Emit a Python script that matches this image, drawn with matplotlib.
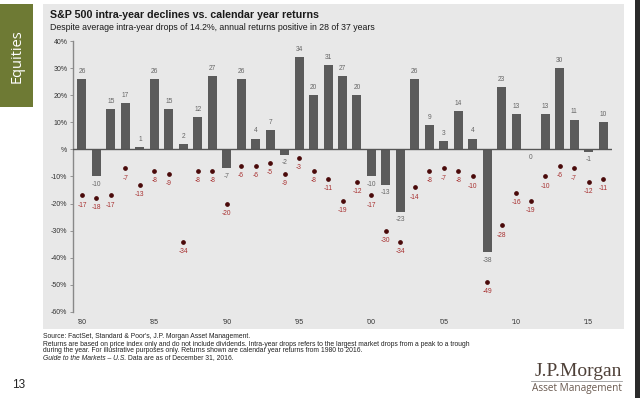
import matplotlib
matplotlib.use("Agg")
import matplotlib.pyplot as plt
from matplotlib.patches import Rectangle
from matplotlib.lines import Line2D

years = list(range(1980, 2017))
annual_returns = [26, -10, 15, 17, 1, 26, 15, 2, 12, 27,
                  -7, 26, 4, 7, -2, 34, 20, 31, 27, 20,
                  -10, -13, -23, 26, 9, 3, 14, 4, -38, 23,
                  13, 0, 13, 30, 11, -1, 10]
intra_year_drops = [-17, -18, -17, -7, -13, -8, -9, -34, -8, -8,
                    -20, -6, -6, -5, -9, -3, -8, -11, -19, -12,
                    -17, -30, -34, -14, -8, -7, -8, -10, -49, -28,
                    -16, -19, -10, -6, -7, -12, -11]
xtick_years = [1980, 1985, 1990, 1995, 2000, 2005, 2010, 2015]
xtick_labels = ["'80", "'85", "'90", "'95", "'00", "'05", "'10", "'15"]
ytick_values = [40, 30, 20, 10, 0, -10, -20, -30, -40, -50, -60]
ytick_labels = ["40%", "30%", "20%", "10%", "%", "-10%", "-20%", "-30%", "-40%", "-50%", "-60%"]

plt.rcParams['font.family'] = ['Liberation Sans', 'DejaVu Sans']

W, H = 640, 398
fig = plt.figure(figsize=(6.4, 3.98), dpi=100)
fig.patch.set_facecolor("white")

def fx(px):
    return px / W

def fy(py):
    return 1 - py / H

# sidebar
fig.patches.append(Rectangle((fx(0), fy(107)), fx(33), 103 / H, transform=fig.transFigure,
                             facecolor="#6e7a34", edgecolor="none", zorder=-2))
fig.text(fx(17), fy(56), "Equities", rotation=90, color="white", fontsize=10.5,
         family=["Open Sans", "DejaVu Sans"], ha="center", va="center")

# gray panel
fig.patches.append(Rectangle((fx(43), fy(329)), fx(624 - 43), 325 / H, transform=fig.transFigure,
                             facecolor="#e8e8e8", edgecolor="none", zorder=-2))
# right dark edge
fig.patches.append(Rectangle((fx(635), 0), fx(5), 1, transform=fig.transFigure,
                             facecolor="#2b2b2b", edgecolor="none", zorder=-2))

fig.text(fx(50), fy(15), "S&P 500 intra-year declines vs. calendar year returns",
         fontsize=7.65, fontweight="bold", color="#1a1a1a", ha="left", va="center")
fig.text(fx(50), fy(27), "Despite average intra-year drops of 14.2%, annual returns positive in 28 of 37 years",
         fontsize=6.3, color="#1a1a1a", ha="left", va="center")

ax = fig.add_axes([fx(73), fy(312), fx(612 - 73), (312 - 41) / H])
ax.set_zorder(2)
ax.set_facecolor("none")
ax.set_xlim(1979.38, 2016.62)
ax.set_ylim(-60, 40)

ax.bar(years, annual_returns, width=0.62, color="#5b5b5b", zorder=2)
ax.axhline(0, color="#555555", lw=1.0, zorder=3)
ax.plot(years, intra_year_drops, "o", ms=2.4, color="#4a0a0a", zorder=4)

for x, v in zip(years, annual_returns):
    if v > 0:
        ax.annotate(f"{v}", (x, v), xytext=(0, 5.5), textcoords="offset points",
                    ha="center", va="center", fontsize=4.8, color="#666666")
    else:
        ax.annotate(f"{v}", (x, v), xytext=(0, -5.5), textcoords="offset points",
                    ha="center", va="center", fontsize=4.8, color="#666666")

for x, v in zip(years, intra_year_drops):
    ax.annotate(f"{v}", (x, v), xytext=(0, -7), textcoords="offset points",
                ha="center", va="center", fontsize=4.8, color="#a83030")

for s in ["top", "right", "bottom"]:
    ax.spines[s].set_visible(False)
ax.spines["left"].set_color("#888888")
ax.spines["left"].set_linewidth(1.0)

ax.set_yticks(ytick_values)
ax.set_yticklabels(ytick_labels)
ax.set_xticks(xtick_years)
ax.set_xticklabels(xtick_labels)
ax.tick_params(axis="y", length=2, width=0.6, color="#888888", labelsize=5,
               labelcolor="#333333", pad=2)
ax.tick_params(axis="x", length=0, labelsize=5, labelcolor="#333333", pad=5)

# footnotes
fn = 4.9
fig.text(fx(43), fy(337), "Source: FactSet, Standard & Poor's, J.P. Morgan Asset Management.",
         fontsize=fn, color="#222222", ha="left", va="center")
fig.text(fx(43), fy(344), "Returns are based on price index only and do not include dividends. Intra-year drops refers to the largest market drops from a peak to a trough",
         fontsize=fn, color="#222222", ha="left", va="center")
fig.text(fx(43), fy(351), "during the year. For illustrative purposes only. Returns shown are calendar year returns from 1980 to 2016.",
         fontsize=fn, color="#222222", ha="left", va="center")
t_it = fig.text(fx(43), fy(358), "Guide to the Markets \u2013 U.S.", fontsize=fn, style="italic",
                color="#222222", ha="left", va="center")
renderer = fig.canvas.get_renderer()
bb = t_it.get_window_extent(renderer=renderer)
fig.text(bb.x1 / W + 1.5 / W, fy(358), "Data are as of December 31, 2016.",
         fontsize=fn, color="#222222", ha="left", va="center")

fig.text(fx(12), fy(385), "13", fontsize=8.5, color="#222222", ha="left", va="center")

# logo
fig.text(fx(622), fy(372), "J.P.Morgan", fontsize=14, family=["Liberation Serif", "DejaVu Serif"],
         color="#4e4038", ha="right", va="center")
fig.lines.append(Line2D([fx(531), fx(622)], [fy(381), fy(381)], transform=fig.transFigure,
                        color="#9a9a9a", lw=0.6))
fig.text(fx(622), fy(389), "Asset Management", fontsize=7.2, family=["Open Sans", "DejaVu Sans"],
         color="#6a5a50", ha="right", va="center")

fig.savefig("out.png", dpi=100, facecolor="white")
